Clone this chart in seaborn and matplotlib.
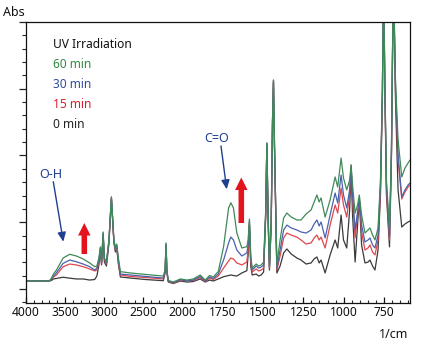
import numpy as np
import pandas as pd
import matplotlib
matplotlib.use("Agg")
import matplotlib.pyplot as plt
from matplotlib.ticker import FixedLocator, NullFormatter, MultipleLocator
import seaborn as sns

# ---------------- data ----------------
wavenumber = [4000, 3815, 3700, 3674, 3649, 3610, 3525, 3440, 3355, 3269,
              3185, 3121, 3093, 3067, 3048, 3033, 3013, 2997, 2971, 2939,
              2907, 2875, 2856, 2840, 2818, 2792, 2664, 2473, 2243, 2220,
              2208, 2197, 2179, 2115, 2025, 1971, 1932, 1889, 1858, 1831,
              1808, 1777, 1744, 1713, 1699, 1683, 1662, 1631, 1600, 1592,
              1584, 1576, 1567, 1542, 1527, 1511, 1496, 1483, 1476, 1468,
              1460, 1449, 1441, 1435, 1429, 1414, 1394, 1372, 1352, 1325,
              1290, 1264, 1233, 1202, 1183, 1166, 1152, 1140, 1115, 1084,
              1053, 1037, 1016, 1001, 981, 963, 954, 945, 929, 914,
              903, 889, 868, 849, 837, 821, 806, 787, 772, 760,
              753, 745, 735, 716, 704, 692, 679, 663, 640, 620,
              601, 589]

abs_60min = [0.060, 0.060, 0.060, 0.082, 0.112, 0.142, 0.232, 0.260, 0.247, 0.225,
             0.195, 0.167, 0.172, 0.232, 0.315, 0.202, 0.427, 0.232, 0.202, 0.367,
             0.689, 0.367, 0.307, 0.337, 0.232, 0.130, 0.120, 0.109, 0.097, 0.142,
             0.345, 0.142, 0.064, 0.052, 0.075, 0.067, 0.075, 0.105, 0.067, 0.101,
             0.090, 0.130, 0.317, 0.607, 0.646, 0.607, 0.419, 0.307, 0.317, 0.367,
             0.524, 0.255, 0.157, 0.187, 0.172, 0.180, 0.202, 0.592, 1.094, 0.554,
             0.172, 0.517, 1.266, 1.565, 1.116, 0.180, 0.367, 0.532, 0.569, 0.539,
             0.517, 0.517, 0.562, 0.592, 0.652, 0.704, 0.652, 0.682, 0.539, 0.667,
             0.839, 0.764, 0.981, 0.831, 0.742, 0.816, 0.929, 0.779, 0.569, 0.629,
             0.704, 0.554, 0.419, 0.442, 0.457, 0.404, 0.367, 0.457, 0.816, 1.490,
             2.350, 1.565, 0.816, 0.442, 1.041, 2.350, 1.565, 1.116, 0.839, 0.906,
             0.944, 0.966]

abs_30min = [0.060, 0.060, 0.060, 0.075, 0.097, 0.122, 0.192, 0.217, 0.204, 0.187,
             0.167, 0.142, 0.157, 0.217, 0.307, 0.195, 0.419, 0.225, 0.195, 0.360,
             0.689, 0.360, 0.300, 0.330, 0.217, 0.112, 0.105, 0.094, 0.082, 0.135,
             0.337, 0.135, 0.060, 0.049, 0.071, 0.060, 0.067, 0.094, 0.060, 0.090,
             0.079, 0.112, 0.217, 0.345, 0.389, 0.367, 0.292, 0.247, 0.270, 0.330,
             0.509, 0.232, 0.142, 0.172, 0.157, 0.165, 0.180, 0.577, 1.094, 0.539,
             0.165, 0.502, 1.258, 1.565, 1.101, 0.157, 0.292, 0.442, 0.479, 0.457,
             0.442, 0.427, 0.419, 0.442, 0.487, 0.517, 0.472, 0.502, 0.382, 0.554,
             0.719, 0.644, 0.854, 0.704, 0.607, 0.742, 0.914, 0.704, 0.442, 0.577,
             0.682, 0.479, 0.352, 0.367, 0.382, 0.330, 0.307, 0.404, 0.779, 1.476,
             2.350, 1.550, 0.779, 0.397, 1.026, 2.350, 1.528, 1.004, 0.689, 0.742,
             0.779, 0.794]

abs_15min = [0.060, 0.060, 0.060, 0.071, 0.090, 0.105, 0.167, 0.187, 0.180, 0.167,
             0.150, 0.135, 0.142, 0.202, 0.300, 0.187, 0.412, 0.217, 0.187, 0.352,
             0.682, 0.352, 0.292, 0.322, 0.202, 0.105, 0.094, 0.086, 0.075, 0.127,
             0.330, 0.127, 0.056, 0.045, 0.067, 0.060, 0.064, 0.086, 0.056, 0.082,
             0.071, 0.097, 0.157, 0.210, 0.232, 0.225, 0.195, 0.180, 0.202, 0.292,
             0.494, 0.202, 0.127, 0.150, 0.135, 0.142, 0.157, 0.562, 1.086, 0.524,
             0.157, 0.487, 1.251, 1.558, 1.086, 0.142, 0.247, 0.382, 0.419, 0.404,
             0.389, 0.367, 0.337, 0.345, 0.382, 0.404, 0.367, 0.389, 0.307, 0.479,
             0.629, 0.569, 0.756, 0.629, 0.539, 0.704, 0.929, 0.667, 0.382, 0.554,
             0.667, 0.427, 0.292, 0.307, 0.330, 0.277, 0.255, 0.367, 0.742, 1.461,
             2.350, 1.535, 0.742, 0.367, 1.011, 2.350, 1.490, 0.966, 0.674, 0.727,
             0.764, 0.779]

abs_0min = [0.060, 0.060, 0.060, 0.064, 0.075, 0.079, 0.088, 0.081, 0.075, 0.075,
            0.067, 0.071, 0.097, 0.180, 0.292, 0.180, 0.404, 0.202, 0.172, 0.337,
            0.674, 0.345, 0.277, 0.315, 0.187, 0.090, 0.082, 0.071, 0.062, 0.120,
            0.322, 0.120, 0.052, 0.041, 0.060, 0.052, 0.056, 0.075, 0.052, 0.067,
            0.060, 0.075, 0.092, 0.101, 0.105, 0.101, 0.097, 0.120, 0.137, 0.255,
            0.479, 0.172, 0.105, 0.112, 0.097, 0.105, 0.127, 0.547, 1.079, 0.502,
            0.142, 0.472, 1.236, 1.550, 1.071, 0.120, 0.172, 0.270, 0.300, 0.262,
            0.232, 0.217, 0.187, 0.195, 0.225, 0.240, 0.195, 0.217, 0.120, 0.255,
            0.367, 0.307, 0.554, 0.367, 0.307, 0.592, 0.891, 0.554, 0.202, 0.479,
            0.667, 0.330, 0.195, 0.202, 0.217, 0.172, 0.142, 0.292, 0.704, 1.446,
            2.350, 1.520, 0.704, 0.315, 0.981, 2.350, 1.416, 0.742, 0.464, 0.487,
            0.502, 0.509]

series_names = ["0 min", "15 min", "30 min", "60 min"]
major_xticks = [4000, 3500, 3000, 2500, 2000, 1750, 1500, 1250, 1000, 750]

# ---------------- build long table ----------------
frames = []
for name, vals in zip(series_names, [abs_0min, abs_15min, abs_30min, abs_60min]):
    frames.append(pd.DataFrame({"wn": wavenumber, "abs": vals, "time": name}))
df = pd.concat(frames, ignore_index=True)

# ---------------- style ----------------
sns.set_style("ticks")
plt.rcParams["font.family"] = ["Noto Sans", "DejaVu Sans"]

line_colors = {"0 min": "#3a3a3a", "15 min": "#e0474c", "30 min": "#4a62ae", "60 min": "#3f8a57"}
text_colors = {"0 min": "#222222", "15 min": "#d8202c", "30 min": "#2e4c9a", "60 min": "#2f8a3e"}
annot_blue = "#1f3f8f"
arrow_red = "#e3141e"

fig = plt.figure(figsize=(4.22, 3.44), dpi=100)
ax = fig.add_axes([26 / 422, 1 - 303 / 344, 384 / 422, 281 / 344])

sns.lineplot(data=df, x="wn", y="abs", hue="time", hue_order=series_names,
             palette=line_colors, sort=False, estimator=None, legend=False,
             linewidth=0.9, ax=ax)

# split wavenumber scale: region above 2000 1/cm compressed
K = 0.4842


def fwd(x):
    x = np.asarray(x, dtype=float)
    return np.where(x > 2000, 2000 + (x - 2000) * K, x)


def inv(t):
    t = np.asarray(t, dtype=float)
    return np.where(t > 2000, 2000 + (t - 2000) / K, t)


ax.set_xscale("function", functions=(fwd, inv))
ax.set_xlim(4000, 589)
ax.set_ylim(-0.105, 2.0)

minor_x = [v for v in range(3900, 2000, -100)] + [v for v in range(1950, 589, -50)]
minor_x = [v for v in minor_x if v not in major_xticks]
ax.xaxis.set_major_locator(FixedLocator(major_xticks))
ax.xaxis.set_minor_locator(FixedLocator(minor_x))
ax.set_xticklabels([str(v) for v in major_xticks])
ax.xaxis.set_minor_formatter(NullFormatter())

ax.yaxis.set_major_locator(MultipleLocator(0.5))
ax.yaxis.set_minor_locator(MultipleLocator(0.1))
ax.yaxis.set_major_formatter(NullFormatter())

ax.tick_params(axis="x", which="major", direction="in", length=4, width=0.9,
               labelsize=8.7, pad=2, colors="#111111")
ax.tick_params(axis="x", which="minor", direction="in", length=2.5, width=0.8)
ax.tick_params(axis="y", which="major", direction="out", length=5, width=0.9)
ax.tick_params(axis="y", which="minor", direction="out", length=3, width=0.8)

for s in ax.spines.values():
    s.set_visible(True)
    s.set_linewidth(0.9)
    s.set_color("#111111")

ax.set_xlabel("")
ax.set_ylabel("")

# axis captions
fig.text(3 / 422, 1 - 12.7 / 344, "Abs", fontsize=9, ha="left", va="center", color="#111111")
fig.text(408 / 422, 1 - 334.3 / 344, "1/cm", fontsize=9, ha="right", va="center", color="#111111")

# legend-like text block
fig.text(53 / 422, 1 - 44.3 / 344, "UV Irradiation", fontsize=8.6, ha="left", va="center", color="#111111")
legend_y = {"60 min": 65, "30 min": 85, "15 min": 105, "0 min": 125}
for name in ["60 min", "30 min", "15 min", "0 min"]:
    fig.text(53 / 422, 1 - legend_y[name] / 344, name, fontsize=8.6, ha="left",
             va="center", color=text_colors[name])

# band annotations
fig.text(51 / 422, 1 - 175 / 344, "O-H", fontsize=9, ha="center", va="center", color=annot_blue)
fig.text(217 / 422, 1 - 138.3 / 344, "C=O", fontsize=9, ha="center", va="center", color=annot_blue)

thin = dict(arrowstyle="-|>,head_length=0.55,head_width=0.25", color=annot_blue,
            lw=1.0, mutation_scale=10, shrinkA=0, shrinkB=0)
ax.annotate("", xy=(63.3, 344 - 241.7), xytext=(53.3, 344 - 181.7),
            xycoords="figure pixels", textcoords="figure pixels", arrowprops=thin)
ax.annotate("", xy=(226.7, 344 - 189.3), xytext=(221, 344 - 146),
            xycoords="figure pixels", textcoords="figure pixels", arrowprops=thin)

thick = dict(arrowstyle="simple,head_length=0.9,head_width=0.9,tail_width=0.4",
             color=arrow_red, lw=0, mutation_scale=10, shrinkA=0, shrinkB=0)
ax.annotate("", xy=(84.3, 344 - 223), xytext=(84.3, 344 - 254),
            xycoords="figure pixels", textcoords="figure pixels", arrowprops=thick)
ax.annotate("", xy=(241.3, 344 - 177.5), xytext=(241.3, 344 - 223),
            xycoords="figure pixels", textcoords="figure pixels", arrowprops=thick)

fig.savefig("out.png", dpi=100, facecolor="white")
